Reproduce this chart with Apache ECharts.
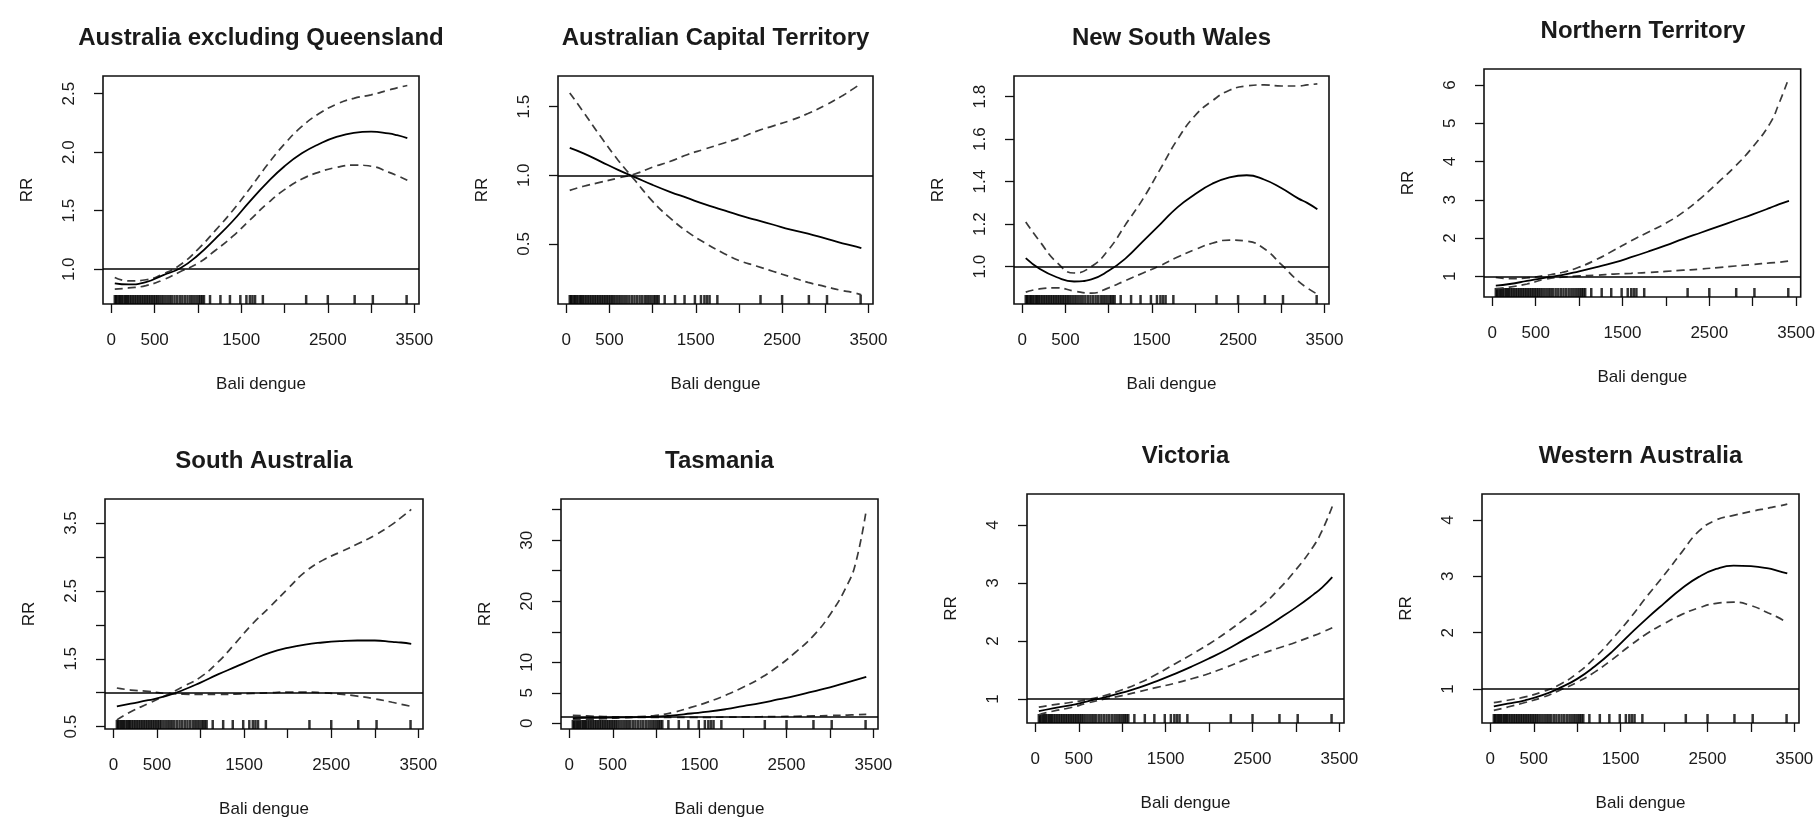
<!DOCTYPE html>
<html><head><meta charset="utf-8">
<script src="https://cdn.jsdelivr.net/npm/echarts@6/dist/echarts.min.js"></script>
<style>html,body{margin:0;padding:0;background:#fff}#c{width:1818px;height:820px}</style>
</head><body><div id="c"></div>
<script>
// ---- data ----
const titles = ['Australia excluding Queensland','Australian Capital Territory','New South Wales','Northern Territory',
  'South Australia','Tasmania','Victoria','Western Australia'];
const baliDengue = [40, 200, 400, 600, 800, 1000, 1200, 1400, 1600, 1800, 2000, 2200, 2400, 2600, 2800, 3000, 3200, 3300, 3418];

const ausExQldRR    = [0.88,0.87,0.89,0.95,1.01,1.12,1.26,1.41,1.58,1.74,1.88,1.99,2.07,2.13,2.165,2.175,2.16,2.145,2.12];
const ausExQldUpper = [0.93,0.90,0.91,0.96,1.04,1.17,1.33,1.50,1.69,1.89,2.07,2.22,2.33,2.41,2.46,2.49,2.53,2.55,2.57];
const ausExQldLower = [0.83,0.84,0.86,0.91,0.98,1.05,1.16,1.28,1.42,1.56,1.68,1.77,1.83,1.87,1.89,1.88,1.83,1.80,1.76];

const actRR    = [1.20,1.16,1.10,1.04,0.985,0.93,0.88,0.835,0.79,0.75,0.71,0.675,0.64,0.605,0.575,0.54,0.505,0.49,0.47];
const actUpper = [0.89,0.92,0.95,0.98,1.01,1.06,1.10,1.15,1.19,1.23,1.27,1.32,1.36,1.40,1.45,1.51,1.58,1.62,1.67];
const actLower = [1.60,1.46,1.28,1.11,0.96,0.81,0.69,0.59,0.51,0.44,0.38,0.34,0.30,0.26,0.22,0.19,0.16,0.15,0.13];

const nswRR    = [1.04,0.99,0.95,0.93,0.94,0.98,1.04,1.12,1.20,1.28,1.34,1.39,1.42,1.43,1.41,1.37,1.32,1.30,1.27];
const nswUpper = [1.21,1.12,1.02,0.97,1.00,1.08,1.20,1.32,1.46,1.60,1.71,1.78,1.83,1.85,1.855,1.85,1.85,1.855,1.86];
const nswLower = [0.88,0.895,0.90,0.885,0.875,0.90,0.935,0.97,1.005,1.045,1.08,1.11,1.125,1.12,1.085,1.01,0.93,0.90,0.87];

const ntRR    = [0.76,0.80,0.88,0.96,1.03,1.13,1.24,1.36,1.50,1.65,1.81,1.98,2.14,2.30,2.46,2.62,2.79,2.88,2.97];
const ntUpper = [0.97,0.94,0.96,1.02,1.10,1.24,1.44,1.68,1.93,2.16,2.39,2.68,3.04,3.45,3.88,4.38,5.00,5.50,6.20];
const ntLower = [0.68,0.72,0.80,0.92,0.98,1.01,1.03,1.06,1.08,1.10,1.13,1.16,1.19,1.23,1.27,1.31,1.35,1.37,1.40];

const saRR    = [0.80,0.84,0.89,0.95,1.04,1.15,1.27,1.38,1.49,1.59,1.66,1.71,1.74,1.76,1.77,1.77,1.75,1.74,1.72];
const saUpper = [0.60,0.72,0.84,0.96,1.09,1.23,1.45,1.73,2.02,2.27,2.53,2.78,2.95,3.07,3.19,3.32,3.48,3.58,3.70];
const saLower = [1.07,1.04,1.02,0.99,0.98,0.975,0.975,0.98,0.99,1.00,1.01,1.01,1.00,0.98,0.95,0.91,0.86,0.83,0.80];

const tasRR    = [0.85,0.88,0.92,0.96,1.00,1.10,1.30,1.60,1.90,2.30,2.80,3.30,3.90,4.50,5.20,5.90,6.70,7.10,7.60];
const tasUpper = [1.30,1.20,1.10,1.05,1.10,1.30,1.80,2.60,3.50,4.60,5.90,7.40,9.30,11.6,14.2,17.8,22.7,26.5,35.0];
const tasLower = [0.55,0.65,0.75,0.90,0.98,0.98,0.95,0.95,0.97,1.00,1.03,1.07,1.10,1.15,1.20,1.27,1.35,1.40,1.45];

const vicRR    = [0.79,0.84,0.89,0.96,1.03,1.11,1.20,1.31,1.43,1.56,1.70,1.85,2.02,2.19,2.38,2.58,2.80,2.92,3.10];
const vicUpper = [0.86,0.90,0.94,0.99,1.06,1.16,1.28,1.43,1.60,1.77,1.95,2.15,2.37,2.60,2.89,3.23,3.63,3.90,4.32];
const vicLower = [0.73,0.79,0.85,0.93,1.00,1.06,1.13,1.20,1.27,1.35,1.44,1.55,1.67,1.78,1.88,1.98,2.09,2.15,2.23];

const waRR    = [0.69,0.74,0.80,0.89,1.02,1.18,1.40,1.66,1.96,2.25,2.52,2.78,2.99,3.13,3.19,3.18,3.14,3.10,3.05];
const waUpper = [0.76,0.80,0.86,0.95,1.08,1.28,1.55,1.88,2.24,2.64,3.02,3.42,3.80,4.00,4.08,4.15,4.21,4.24,4.28];
const waLower = [0.62,0.68,0.76,0.85,0.98,1.12,1.30,1.52,1.76,1.98,2.16,2.32,2.44,2.52,2.54,2.48,2.35,2.28,2.18];

const rugValues = [40,55,70,90,105,120,140,160,175,190,210,230,250,270,290,310,330,350,370,390,410,430,450,470,490,
  510,530,550,575,600,625,650,675,700,730,760,790,820,850,880,910,935,960,985,1010,1030,1050,1070,
  1140,1260,1370,1490,1560,1600,1630,1660,1750,2250,2500,2810,3020,3410];

const xTickValues  = [0,500,1000,1500,2000,2500,3000,3500];
const xLabelValues = [0,500,1500,2500,3500];
const xRange = [-96, 3553];

const yRanges = [[0.703,2.651],[0.063,1.723],[0.824,1.897],[0.46,6.42],[0.466,3.854],[-0.94,36.76],[0.587,4.534],[0.397,4.46]];
const yTickValues = [[1.0,1.5,2.0,2.5],[0.5,1.0,1.5],[1.0,1.2,1.4,1.6,1.8],[1,2,3,4,5,6],
  [0.5,1.0,1.5,2.0,2.5,3.0,3.5],[0,5,10,15,20,25,30,35],[1,2,3,4],[1,2,3,4]];
const yLabelValues = [[1.0,1.5,2.0,2.5],[0.5,1.0,1.5],[1.0,1.2,1.4,1.6,1.8],[1,2,3,4,5,6],
  [0.5,1.5,2.5,3.5],[0,5,10,20,30],[1,2,3,4],[1,2,3,4]];
const yDecimals = [1,1,1,0,1,0,0,0];

const rrSeries    = [ausExQldRR, actRR, nswRR, ntRR, saRR, tasRR, vicRR, waRR];
const upperSeries = [ausExQldUpper, actUpper, nswUpper, ntUpper, saUpper, tasUpper, vicUpper, waUpper];
const lowerSeries = [ausExQldLower, actLower, nswLower, ntLower, saLower, tasLower, vicLower, waLower];

// ---- layout ----
const boxes = [
  [103,76,316,228],[558,76,315,228],[1014,76,315,228],[1484,69,318,228],
  [105,499,318,230],[561,499,317,230],[1027,494,317,229],[1482,494,317,229]
];
const FONT = '"Liberation Sans", Arial, sans-serif';
const TXT = '#1a1a1a';

const option = {animation:false, backgroundColor:'#fff', title:[], grid:[], xAxis:[], yAxis:[], series:[]};

boxes.forEach((b, i) => {
  const [L, T, W, H] = b;
  option.title.push({text: titles[i], left: L + W/2 - 5, top: T - 55, textAlign:'center',
    textStyle:{fontFamily:FONT, fontSize:24, fontWeight:'bold', color:TXT}});
  option.grid.push({left:L, top:T, width:W, height:H, show:true, borderColor:'#111', borderWidth:1.6, backgroundColor:'transparent'});
  option.xAxis.push({type:'value', gridIndex:i, min:xRange[0], max:xRange[1],
    axisLine:{show:false, onZero:false},
    axisTick:{show:true, length:9, customValues:xTickValues, lineStyle:{color:'#111', width:1.3}},
    axisLabel:{customValues:xLabelValues, margin:28, fontSize:17, color:TXT, fontFamily:FONT, formatter: v => String(v)},
    splitLine:{show:false},
    name:'Bali dengue', nameLocation:'middle', nameGap:72, nameTextStyle:{fontSize:17, color:TXT, fontFamily:FONT}});
  const dec = yDecimals[i];
  option.yAxis.push({type:'value', gridIndex:i, min:yRanges[i][0], max:yRanges[i][1],
    axisLine:{show:false, onZero:false},
    axisTick:{show:true, length:9, customValues:yTickValues[i], lineStyle:{color:'#111', width:1.3}},
    axisLabel:{customValues:yLabelValues[i], rotate:90, margin:25, fontSize:17, color:TXT, fontFamily:FONT,
      formatter: v => Number(v).toFixed(dec)},
    splitLine:{show:false},
    name:'RR', nameLocation:'middle', nameGap:67, nameTextStyle:{fontSize:17, color:TXT, fontFamily:FONT}});
  const mk = arr => baliDengue.map((x, j) => [x, arr[j]]);
  option.series.push({type:'line', xAxisIndex:i, yAxisIndex:i, data:mk(rrSeries[i]), smooth:0.5,
    showSymbol:false, lineStyle:{color:'#000', width:1.8}, z:4,
    markLine:{silent:true, symbol:'none', label:{show:false}, lineStyle:{color:'#000', type:'solid', width:1.6},
      data:[{yAxis:1}]}});
  option.series.push({type:'line', xAxisIndex:i, yAxisIndex:i, data:mk(upperSeries[i]), smooth:0.5,
    showSymbol:false, lineStyle:{color:'#3a3a3a', width:1.7, type:[8,5]}, z:3});
  option.series.push({type:'line', xAxisIndex:i, yAxisIndex:i, data:mk(lowerSeries[i]), smooth:0.5,
    showSymbol:false, lineStyle:{color:'#3a3a3a', width:1.7, type:[8,5]}, z:3});
  option.series.push({type:'scatter', xAxisIndex:i, yAxisIndex:i, clip:false, silent:true,
    data: rugValues.map(x => [x, yRanges[i][0]]),
    symbol:'rect', symbolSize:[2.5, 9], symbolOffset:[0, -4.5],
    itemStyle:{color:'#000'}, z:2});
});

const chart = echarts.init(document.getElementById('c'), null, {renderer:'canvas'});
chart.setOption(option);
</script></body></html>
